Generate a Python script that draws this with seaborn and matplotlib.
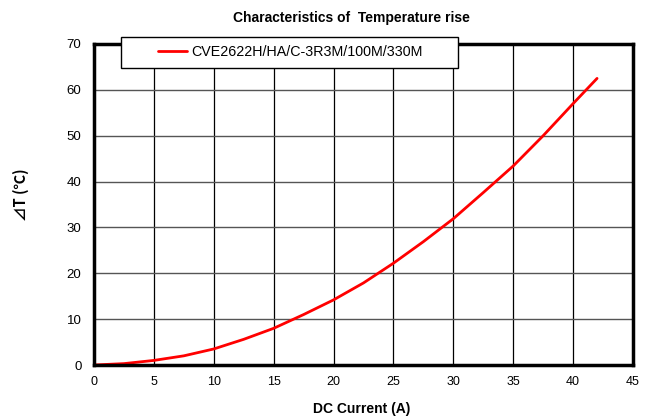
import matplotlib
matplotlib.use("Agg")
import matplotlib.pyplot as plt
from matplotlib.patches import Rectangle
import seaborn as sns
import pandas as pd

current_a = [0, 2.5, 5, 7.5, 10, 12.5, 15, 17.5, 20, 22.5, 25, 27.5, 30, 32.5, 35, 37.5, 40, 42]
delta_t = [0, 0.3, 1.0, 2.0, 3.5, 5.6, 8.0, 11.0, 14.2, 17.9, 22.2, 26.9, 31.9, 37.6, 43.4, 50.0, 57.0, 62.5]
series_name = "CVE2622H/HA/C-3R3M/100M/330M"
x_ticks = [0, 5, 10, 15, 20, 25, 30, 35, 40, 45]
y_ticks = [0, 10, 20, 30, 40, 50, 60, 70]

sns.set_theme(style="white")
plt.rcParams['font.family'] = ['Liberation Sans', 'DejaVu Sans']
plt.rcParams['text.color'] = 'black'
plt.rcParams['axes.labelcolor'] = 'black'

df = pd.DataFrame({"I": current_a, "dT": delta_t, "series": series_name})

W, H = 647, 416
L, R, T, B = 94, 633, 44, 365
fig = plt.figure(figsize=(W / 100, H / 100), dpi=100)
ax = fig.add_axes([L / W, 1 - B / H, (R - L) / W, (B - T) / H])

sns.lineplot(data=df, x="I", y="dT", hue="series", palette=["#ff0000"],
             linewidth=2.0, ax=ax, legend=True)

ax.set_xlim(0, 45)
ax.set_ylim(0, 70)
ax.set_xticks(x_ticks)
ax.set_yticks(y_ticks)
ax.tick_params(axis='x', length=0, labelsize=9, colors='black', pad=8)
ax.tick_params(axis='y', length=0, labelsize=9.5, colors='black', pad=9)
ax.grid(True, axis='x', color='black', linewidth=0.9)
ax.grid(True, axis='y', color='#555555', linewidth=1.0)
ax.set_axisbelow(True)
for s in ax.spines.values():
    s.set_color('black')
    s.set_linewidth(2.5)

def ax_x(px):
    return (px - L) / (R - L)

def ax_y(py):
    return (B - py) / (B - T)

ax.set_xlabel("DC Current (A)", fontsize=10, fontweight='bold', color='black')
ax.xaxis.set_label_coords(ax_x(362), ax_y(401.5))
ax.set_ylabel("⊿T (℃)", fontsize=10.5, fontweight='bold', color='black',
              family=['Noto Sans CJK JP', 'DejaVu Sans'])
ax.yaxis.set_label_coords(ax_x(29), ax_y(195))
fig.text(351 / W, 1 - 17.7 / H, "Characteristics of  Temperature rise",
         ha='center', va='center', fontsize=10, fontweight='bold', color='black')

frame = Rectangle((ax_x(121), ax_y(68.3)), ax_x(458) - ax_x(121), ax_y(36.7) - ax_y(68.3),
                  transform=ax.transAxes, clip_on=False, facecolor='white',
                  edgecolor='black', linewidth=1.0, zorder=10)
ax.add_patch(frame)

handles, labels = ax.get_legend_handles_labels()
leg = ax.legend(handles, [series_name], loc='center left',
                bbox_to_anchor=(ax_x(158), ax_y(52.5)),
                fontsize=10.3, frameon=False, handlelength=2.0, handletextpad=0.35,
                borderpad=0, borderaxespad=0, labelcolor='black')
leg.set_zorder(11)

fig.savefig("out.png", dpi=100)
